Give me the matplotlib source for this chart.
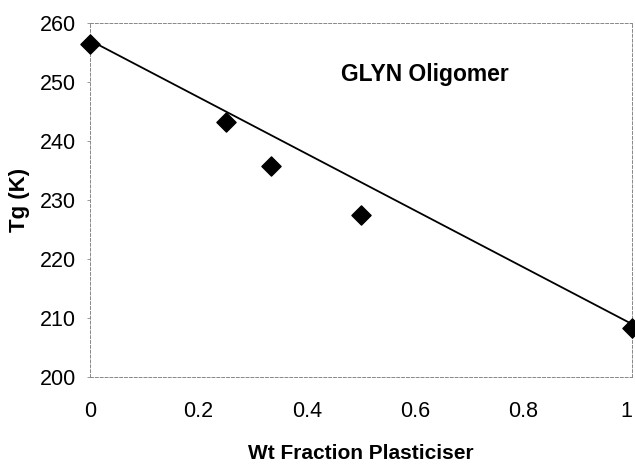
import matplotlib
matplotlib.use("Agg")
import matplotlib.pyplot as plt

plt.rcParams['font.family'] = ['Liberation Sans', 'DejaVu Sans']

# data
wt_fraction = [0.0, 0.25, 0.333, 0.5, 1.0]
tg_kelvin = [256.4, 243.2, 235.7, 227.5, 208.3]

# straight line drawn between the pure components
line_x = [0.0, 1.0]
line_y = [257.0, 209.0]

x_ticks = [0, 0.2, 0.4, 0.6, 0.8, 1]
x_tick_labels = ['0', '0.2', '0.4', '0.6', '0.8', '1']
y_ticks = [200, 210, 220, 230, 240, 250, 260]

fig = plt.figure(figsize=(6.35, 4.65), dpi=100)
ax = fig.add_axes([0.142, 0.189, 0.853, 0.762])

ax.plot(line_x, line_y, color='black', lw=1.3, zorder=2)
ax.scatter(wt_fraction, tg_kelvin, marker='D', s=95, color='black', zorder=3, clip_on=False)

ax.set_xlim(0, 1)
ax.set_ylim(200, 260)
ax.set_xticks(x_ticks)
ax.set_xticklabels(x_tick_labels)
ax.set_yticks(y_ticks)
ax.tick_params(axis='x', length=0, pad=17, labelsize=15.5)
ax.tick_params(axis='y', length=2, width=0.6, color='#888888', pad=8, labelsize=15.5)
# keep the last label inside the canvas
ax.get_xticklabels()[-1].set_horizontalalignment('right')

for side in ['top', 'bottom', 'left', 'right']:
    ax.spines[side].set_linestyle((0, (3, 2)))
    ax.spines[side].set_color('#888888')
    ax.spines[side].set_linewidth(0.7)

ax.set_xlabel('Wt Fraction Plasticiser', fontsize=15, fontweight='bold', labelpad=16)
ax.set_ylabel('Tg (K)', fontsize=16, fontweight='bold', labelpad=7)

ax.text(0.618, 251.3, 'GLYN Oligomer', fontsize=16.5, fontweight='bold', ha='center', va='center')

fig.savefig('out.png', dpi=100)
